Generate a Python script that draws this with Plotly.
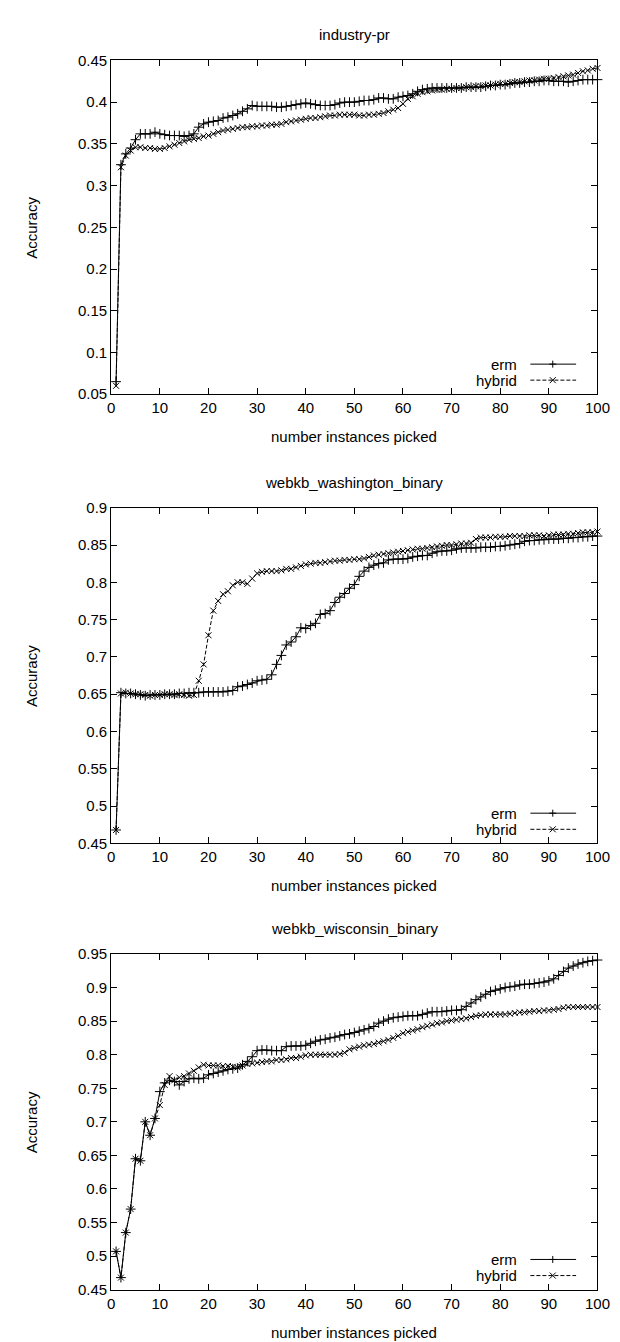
import plotly.graph_objects as go

# ---------------- data ----------------
x_picked = list(range(1, 101))

industry_erm = [
    0.065, 0.325, 0.338, 0.345, 0.355, 0.362, 0.362, 0.362, 0.364, 0.362,
    0.361, 0.360, 0.360, 0.360, 0.359, 0.360, 0.362, 0.370, 0.374, 0.376,
    0.377, 0.378, 0.381, 0.382, 0.384, 0.386, 0.389, 0.392, 0.396, 0.395,
    0.395, 0.395, 0.395, 0.394, 0.394, 0.395, 0.396, 0.397, 0.398, 0.399,
    0.398, 0.397, 0.396, 0.396, 0.396, 0.397, 0.399, 0.400, 0.400, 0.400,
    0.401, 0.402, 0.402, 0.403, 0.405, 0.405, 0.404, 0.404, 0.406, 0.407,
    0.408, 0.410, 0.413, 0.415, 0.416, 0.417, 0.417, 0.417, 0.417, 0.417,
    0.417, 0.417, 0.418, 0.418, 0.418, 0.418, 0.419, 0.420, 0.420, 0.421,
    0.421, 0.422, 0.423, 0.423, 0.424, 0.424, 0.425, 0.425, 0.426, 0.426,
    0.425, 0.425, 0.425, 0.424, 0.425, 0.426, 0.427, 0.427, 0.427, 0.427,
]
industry_hybrid = [
    0.060, 0.322, 0.336, 0.342, 0.346, 0.346, 0.345, 0.345, 0.344, 0.344,
    0.345, 0.347, 0.349, 0.351, 0.353, 0.355, 0.356, 0.357, 0.359, 0.360,
    0.362, 0.364, 0.366, 0.367, 0.368, 0.369, 0.370, 0.370, 0.371, 0.371,
    0.372, 0.372, 0.373, 0.373, 0.374, 0.376, 0.377, 0.378, 0.379, 0.380,
    0.381, 0.381, 0.382, 0.383, 0.384, 0.384, 0.385, 0.385, 0.385, 0.385,
    0.384, 0.384, 0.385, 0.385, 0.386, 0.387, 0.389, 0.391, 0.393, 0.398,
    0.404, 0.407, 0.410, 0.412, 0.413, 0.414, 0.415, 0.415, 0.416, 0.416,
    0.417, 0.417, 0.418, 0.418, 0.419, 0.419, 0.420, 0.420, 0.421, 0.422,
    0.422, 0.423, 0.424, 0.424, 0.425, 0.426, 0.426, 0.427, 0.428, 0.428,
    0.429, 0.430, 0.431, 0.432, 0.433, 0.435, 0.437, 0.438, 0.440, 0.441,
]

washington_erm = [
    0.468, 0.652, 0.651, 0.651, 0.650, 0.649, 0.648, 0.649, 0.649, 0.649,
    0.650, 0.650, 0.650, 0.651, 0.651, 0.652, 0.652, 0.652, 0.653, 0.653,
    0.653, 0.653, 0.653, 0.654, 0.655, 0.660, 0.661, 0.663, 0.665, 0.668,
    0.669, 0.670, 0.676, 0.690, 0.702, 0.716, 0.720, 0.727, 0.739, 0.738,
    0.742, 0.745, 0.757, 0.758, 0.762, 0.773, 0.780, 0.785, 0.792, 0.797,
    0.808, 0.815, 0.820, 0.823, 0.825, 0.826, 0.830, 0.831, 0.831, 0.831,
    0.832, 0.834, 0.835, 0.836, 0.836, 0.839, 0.841, 0.842, 0.842, 0.843,
    0.845, 0.846, 0.846, 0.846, 0.846, 0.847, 0.847, 0.847, 0.848, 0.848,
    0.849, 0.850, 0.851, 0.852, 0.855, 0.856, 0.856, 0.857, 0.857, 0.858,
    0.858, 0.858, 0.859, 0.859, 0.860, 0.860, 0.861, 0.861, 0.862, 0.862,
]
washington_hybrid = [
    0.468, 0.651, 0.652, 0.651, 0.650, 0.650, 0.649, 0.648, 0.649, 0.649,
    0.650, 0.650, 0.649, 0.650, 0.649, 0.648, 0.649, 0.668, 0.690, 0.729,
    0.762, 0.775, 0.784, 0.788, 0.796, 0.800, 0.800, 0.798, 0.805, 0.812,
    0.814, 0.815, 0.815, 0.815, 0.816, 0.818, 0.818, 0.820, 0.822, 0.824,
    0.825, 0.826, 0.826, 0.827, 0.828, 0.829, 0.829, 0.830, 0.830, 0.831,
    0.831, 0.832, 0.834, 0.836, 0.837, 0.838, 0.839, 0.840, 0.841, 0.842,
    0.843, 0.844, 0.845, 0.845, 0.846, 0.847, 0.848, 0.849, 0.850, 0.850,
    0.851, 0.852, 0.852, 0.853, 0.858, 0.860, 0.860, 0.860, 0.861, 0.861,
    0.861, 0.862, 0.862, 0.862, 0.862, 0.863, 0.863, 0.863, 0.862, 0.863,
    0.864, 0.864, 0.864, 0.865, 0.865, 0.866, 0.867, 0.867, 0.867, 0.868,
]

wisconsin_erm = [
    0.507, 0.468, 0.535, 0.570, 0.645, 0.642, 0.700, 0.680, 0.705, 0.745,
    0.758, 0.762, 0.760, 0.755, 0.760, 0.764, 0.765, 0.764, 0.765, 0.770,
    0.772, 0.774, 0.776, 0.778, 0.779, 0.780, 0.785, 0.790, 0.797, 0.806,
    0.807, 0.807, 0.806, 0.806, 0.806, 0.812, 0.813, 0.813, 0.813, 0.814,
    0.817, 0.820, 0.822, 0.823, 0.825, 0.826, 0.828, 0.830, 0.831, 0.833,
    0.835, 0.837, 0.839, 0.842, 0.847, 0.850, 0.853, 0.855, 0.856, 0.857,
    0.858, 0.858, 0.858, 0.860, 0.862, 0.864, 0.864, 0.864, 0.865, 0.866,
    0.866, 0.867, 0.872, 0.877, 0.882, 0.886, 0.890, 0.894, 0.896, 0.898,
    0.900, 0.901, 0.902, 0.904, 0.905, 0.905, 0.906, 0.907, 0.908, 0.910,
    0.913, 0.918, 0.924, 0.929, 0.932, 0.935, 0.937, 0.939, 0.940, 0.941,
]
wisconsin_hybrid = [
    0.507, 0.468, 0.535, 0.570, 0.645, 0.642, 0.700, 0.680, 0.705, 0.725,
    0.755, 0.768, 0.762, 0.766, 0.768, 0.772, 0.776, 0.781, 0.785, 0.784,
    0.784, 0.784, 0.783, 0.783, 0.782, 0.781, 0.784, 0.786, 0.787, 0.788,
    0.789, 0.790, 0.790, 0.792, 0.792, 0.793, 0.795, 0.795, 0.797, 0.799,
    0.800, 0.800, 0.800, 0.800, 0.800, 0.800, 0.801, 0.803, 0.808, 0.810,
    0.812, 0.814, 0.815, 0.816, 0.818, 0.820, 0.822, 0.825, 0.828, 0.832,
    0.834, 0.836, 0.838, 0.841, 0.843, 0.845, 0.847, 0.848, 0.850, 0.851,
    0.852, 0.853, 0.854, 0.856, 0.858, 0.859, 0.860, 0.860, 0.860, 0.860,
    0.860, 0.861, 0.862, 0.863, 0.863, 0.864, 0.865, 0.865, 0.866, 0.866,
    0.867, 0.868, 0.870, 0.871, 0.871, 0.871, 0.871, 0.871, 0.871, 0.871,
]

titles = ["industry-pr", "webkb_washington_binary", "webkb_wisconsin_binary"]
series_names = ["erm", "hybrid"]
y_ranges = [(0.05, 0.45), (0.45, 0.9), (0.45, 0.95)]
x_ticks = list(range(0, 101, 10))
x_title = "number instances picked"
y_title = "Accuracy"

# ---------------- layout ----------------
W, H = 620, 1342
LEFT, RIGHT = 102, 602
PANELS = [(44, 382), (497, 837), (949, 1289)]
FONT = "Liberation Sans, Arial, Helvetica, sans-serif"
FS = 15

data_sets = [
    (industry_erm, industry_hybrid),
    (washington_erm, washington_hybrid),
    (wisconsin_erm, wisconsin_hybrid),
]

fig = go.Figure()
layout = dict(
    width=W, height=H,
    margin=dict(l=0, r=0, t=0, b=0),
    paper_bgcolor="white", plot_bgcolor="white",
    font=dict(family=FONT, size=FS, color="black"),
    showlegend=False,
)
annotations = []
shapes = []

xdom = [LEFT / W, RIGHT / W]
for i, ((erm, hyb), title, yr, (top, bot)) in enumerate(zip(data_sets, titles, y_ranges, PANELS)):
    sfx = "" if i == 0 else str(i + 1)
    xa, ya = "x" + sfx, "y" + sfx
    fig.add_trace(go.Scatter(
        x=x_picked, y=erm, xaxis=xa, yaxis=ya, mode="lines+markers",
        name=series_names[0], cliponaxis=False,
        line=dict(color="black", width=1),
        marker=dict(symbol="cross-thin-open", size=7, line=dict(color="black", width=1)),
    ))
    fig.add_trace(go.Scatter(
        x=x_picked, y=hyb, xaxis=xa, yaxis=ya, mode="lines+markers",
        name=series_names[1], cliponaxis=False,
        line=dict(color="black", width=1, dash="4px,2px"),
        marker=dict(symbol="x-thin-open", size=6, line=dict(color="black", width=1)),
    ))
    ydom = [1 - bot / H, 1 - top / H]
    common = dict(showline=True, linecolor="black", linewidth=1, mirror="ticks",
                  ticks="inside", ticklen=6, tickwidth=1, tickcolor="black",
                  showgrid=False, zeroline=False,
                  tickfont=dict(family=FONT, size=FS, color="black"))
    layout["xaxis" + sfx] = dict(domain=xdom, range=[0, 100], anchor=ya,
                                 tickmode="array", tickvals=x_ticks, **common)
    layout["yaxis" + sfx] = dict(domain=ydom, range=list(yr), anchor=xa,
                                 tick0=0, dtick=0.05, **common)
    xc = (LEFT + RIGHT) / 2 / W
    annotations.append(dict(text=title, x=xc, y=1 - (top - 26) / H, xref="paper", yref="paper",
                            xanchor="center", yanchor="middle", showarrow=False,
                            font=dict(family=FONT, size=FS)))
    annotations.append(dict(text=x_title, x=xc, y=1 - (bot + 43) / H, xref="paper", yref="paper",
                            xanchor="center", yanchor="middle", showarrow=False,
                            font=dict(family=FONT, size=FS)))
    annotations.append(dict(text=y_title, x=20 / W, y=1 - (top + bot) / 2 / H, xref="paper",
                            yref="paper", xanchor="center", yanchor="middle", textangle=-90,
                            showarrow=False, font=dict(family=FONT, size=FS)))
    # key (legend) inside bottom-right, gnuplot style
    xr, yr_ = xa + " domain", ya + " domain"
    rows = [(0.09, series_names[0], None, "plus"), (0.042, series_names[1], "4px,2px", "x")]
    for yk, name, dash, sym in rows:
        annotations.append(dict(text=name, x=0.838, y=yk, xref=xr, yref=yr_,
                                xanchor="right", yanchor="middle", showarrow=False,
                                font=dict(family=FONT, size=FS)))
        ln = dict(color="black", width=1)
        if dash:
            ln["dash"] = dash
        shapes.append(dict(type="line", xref=xr, yref=yr_, x0=0.862, x1=0.956, y0=yk, y1=yk, line=ln))
        if sym == "plus":
            segs = [(-3.5, 0, 3.5, 0), (0, -3.5, 0, 3.5)]
        else:
            segs = [(-3, -3, 3, 3), (-3, 3, 3, -3)]
        for (a0, b0, a1, b1) in segs:
            shapes.append(dict(type="line", xref=xr, yref=yr_, xsizemode="pixel", ysizemode="pixel",
                               xanchor=0.908, yanchor=yk, x0=a0, x1=a1, y0=b0, y1=b1,
                               line=dict(color="black", width=1)))

layout["annotations"] = annotations
layout["shapes"] = shapes
fig.update_layout(**layout)
fig.write_html("out.html")
